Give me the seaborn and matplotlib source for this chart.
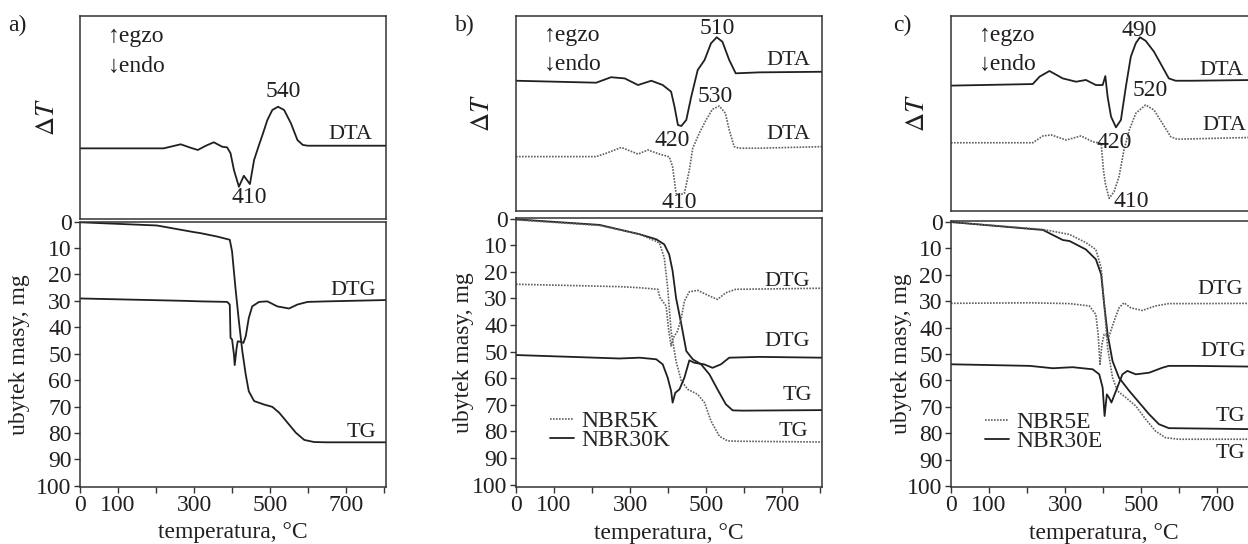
import matplotlib
matplotlib.use('Agg')
import matplotlib.pyplot as plt
from matplotlib.lines import Line2D
import seaborn as sns
import pandas as pd

# ---- panel a (single sample) ----
a_dta_t = [0, 220, 265, 291, 310, 330, 352, 374, 387, 396, 405, 418, 431, 447, 458, 471, 480, 493, 506, 521,
           537, 555, 572, 586, 599, 700, 805]
a_dta = [34.8, 34.8, 36.8, 35.1, 34.0, 36.0, 37.8, 35.6, 35.3, 32.4, 24.1, 15.9, 21.3, 17.2, 29.1, 36.5, 41.4,
         48.8, 53.7, 55.3, 53.7, 47.1, 38.9, 36.5, 36.1, 36.1, 36.1]
a_tg_t = [0, 202, 299, 317, 361, 394, 400, 409, 418, 427, 436, 444, 458, 484, 506, 524, 546, 568, 590, 616, 650, 805]
a_tg = [0.3, 1.5, 4.0, 4.4, 5.7, 6.9, 11.3, 25.2, 37.7, 49.0, 57.9, 64.2, 67.9, 69.2, 70.1, 72.3, 76.1, 79.9,
        82.6, 83.4, 83.5, 83.5]
a_dtg_t = [0, 273, 317, 387, 394, 396, 400, 405, 407, 412, 415, 423, 430, 436, 444, 453, 471, 493, 519, 550, 572,
           599, 650, 805]
a_dtg = [29.1, 30.0, 30.2, 30.4, 31.4, 44.0, 44.6, 50.3, 54.3, 47.8, 45.3, 45.5, 45.9, 43.4, 36.5, 32.1, 30.4,
         30.2, 32.1, 32.9, 31.4, 30.4, 30.2, 29.7]

# ---- panel b: NBR30K (solid) and NBR5K (dotted) ----
b_dta30_t = [0, 211, 250, 286, 321, 356, 386, 408, 417, 426, 435, 448, 461, 478, 496, 513, 528, 543, 561, 578,
             640, 805]
b_dta30 = [66.8, 65.8, 68.6, 68.0, 64.6, 66.8, 64.6, 61.2, 53.5, 44.1, 43.6, 46.7, 58.6, 72.3, 77.4, 86.0, 89.1,
           86.8, 77.4, 70.6, 71.1, 71.4]
b_dta5_t = [0, 211, 237, 277, 321, 347, 377, 403, 412, 421, 429, 443, 456, 465, 482, 500, 517, 535, 551, 561, 574,
            587, 640, 805]
b_dta5 = [27.9, 27.9, 29.6, 32.6, 29.2, 31.3, 29.2, 27.8, 22.7, 9.1, 8.2, 9.1, 21.0, 32.2, 39.8, 46.7, 52.2, 53.8,
          50.1, 41.5, 33.0, 32.2, 32.2, 33.0]
b_tg30_t = [0, 220, 325, 369, 390, 403, 412, 421, 435, 448, 465, 487, 509, 530, 552, 570, 596, 805]
b_tg30 = [0.3, 2.4, 5.9, 7.8, 9.7, 13.5, 19.7, 29.8, 39.8, 49.8, 52.9, 54.8, 58.6, 64.2, 69.8, 72.1, 72.2, 72.0]
b_tg5_t = [0, 220, 325, 377, 390, 399, 408, 421, 435, 452, 478, 496, 513, 535, 557, 587, 805]
b_tg5 = [0.5, 2.6, 5.9, 9.1, 14.7, 26.0, 42.3, 53.6, 61.1, 64.2, 66.1, 69.2, 76.1, 81.8, 83.6, 83.7, 84.0]
b_dtg5_t = [0, 272, 325, 373, 379, 395, 401, 408, 414, 425, 435, 443, 456, 478, 504, 530, 552, 578, 640, 805]
b_dtg5 = [24.7, 25.6, 26.0, 26.6, 29.8, 32.9, 41.1, 47.9, 44.8, 42.3, 37.3, 31.0, 27.5, 27.0, 28.8, 30.4, 27.9,
          26.6, 26.5, 26.2]
b_dtg30_t = [0, 272, 325, 369, 386, 399, 408, 412, 419, 430, 443, 456, 469, 495, 517, 539, 561, 640, 805]
b_dtg30 = [51.3, 52.6, 52.3, 52.9, 54.8, 59.8, 64.8, 69.2, 65.5, 64.2, 59.8, 53.3, 54.2, 54.8, 56.1, 54.8, 52.3,
           52.0, 52.3]

# ---- panel c: NBR30E (solid) and NBR5E (dotted) ----
c_dta30_t = [0, 215, 233, 259, 294, 329, 355, 381, 399, 406, 412, 421, 434, 447, 460, 473, 486, 497, 512, 534,
             556, 573, 591, 634, 805]
c_dta30 = [64.3, 65.1, 68.9, 71.8, 68.0, 66.3, 67.2, 64.6, 64.6, 69.2, 58.6, 48.4, 42.9, 46.7, 63.7, 79.1, 86.0,
           89.1, 87.3, 81.7, 74.0, 68.0, 66.8, 66.8, 67.2]
c_dta5_t = [0, 215, 242, 264, 303, 342, 373, 395, 401, 406, 416, 429, 442, 455, 469, 486, 512, 534, 556, 578, 595,
            634, 805]
c_dta5 = [35.0, 35.0, 38.5, 39.0, 36.4, 38.5, 35.5, 34.7, 21.0, 14.2, 6.5, 9.9, 17.6, 31.3, 41.5, 50.1, 54.4,
          51.8, 45.0, 38.1, 36.8, 37.0, 37.8]
c_tg30_t = [0, 242, 294, 312, 355, 381, 395, 403, 412, 425, 442, 469, 495, 521, 547, 573, 634, 805]
c_tg30 = [0.0, 3.0, 6.8, 7.2, 10.4, 14.1, 19.8, 31.2, 42.5, 52.7, 59.0, 64.0, 68.4, 72.8, 76.6, 78.1, 78.2, 78.5]
c_tg5_t = [0, 242, 312, 355, 381, 395, 403, 412, 425, 438, 460, 486, 512, 538, 564, 599, 805]
c_tg5 = [0.0, 2.8, 4.7, 7.8, 10.4, 17.3, 31.2, 47.6, 59.0, 64.0, 66.5, 69.7, 74.7, 79.2, 81.7, 82.3, 82.3]
c_dtg5_t = [0, 207, 312, 364, 381, 387, 392, 397, 403, 416, 429, 442, 455, 473, 503, 538, 573, 634, 805]
c_dtg5 = [30.8, 30.6, 30.9, 31.8, 35.0, 42.5, 53.9, 46.3, 42.5, 43.2, 37.5, 32.5, 30.6, 32.5, 33.5, 31.8, 30.9,
          30.9, 30.8]
c_dtg30_t = [0, 207, 268, 320, 373, 390, 399, 404, 410, 416, 422, 434, 451, 464, 486, 521, 556, 573, 634, 805]
c_dtg30 = [53.9, 54.5, 55.4, 55.0, 55.8, 57.7, 62.8, 73.5, 65.3, 66.6, 68.4, 64.0, 57.7, 56.4, 57.7, 57.1, 55.2,
           54.5, 54.5, 54.8]

x_ticks = [0, 100, 200, 300, 400, 500, 600, 700, 800]
x_labels = ['0', '100', '', '300', '', '500', '', '700', '']
y_ticks = list(range(0, 101, 10))

sns.set_style('ticks')
plt.rcParams['font.family'] = ['Liberation Serif', 'DejaVu Serif']
plt.rcParams['mathtext.fontset'] = 'stix'

INK = '#231f20'
DOT = '#606060'
W, H = 1248, 544
FS = 17
SOLID = dict(color=INK, lw=1.3, linestyle='-')
DOTTED = dict(color=DOT, lw=1.2, linestyle=(0, (1.0, 0.8)))


def box(x0, y0, x1, y1):
    # pixel box -> figure fraction
    return [x0 / W, 1 - y1 / H, (x1 - x0) / W, (y1 - y0) / H]


def curve(ax, t, v, style):
    df = pd.DataFrame({'T': t, 'v': v})
    sns.lineplot(data=df, x='T', y='v', ax=ax, estimator=None, sort=False, legend=False, **style)


def frame(ax):
    for s in ax.spines.values():
        s.set_visible(True)
        s.set_linewidth(1.1)
        s.set_color('#333333')
    ax.set_xlabel('')
    ax.set_ylabel('')


def ylab(ax, text, size, off):
    ax.set_ylabel(text, fontsize=size, color=INK)
    ax.yaxis.label.set_va('center')
    ax.yaxis.set_label_coords(-off / 306, 0.5)


def setup_top(ax, off):
    frame(ax)
    ax.set_xlim(0, 805)
    ax.set_ylim(0, 100)
    ax.set_xticks([])
    ax.set_yticks([])
    ylab(ax, r'$\Delta T$', 19, off)
    ax.text(0.09, 0.9, '\u2191egzo', transform=ax.transAxes, fontsize=FS, color=INK, va='center')
    ax.text(0.09, 0.75, '\u2193endo', transform=ax.transAxes, fontsize=FS, color=INK, va='center')


def setup_bottom(ax, ylim, off):
    frame(ax)
    ax.set_xlim(0, 805)
    ax.set_ylim(*ylim)
    ax.set_xticks(x_ticks)
    ax.set_xticklabels(x_labels)
    ax.set_yticks(y_ticks)
    ax.tick_params(direction='out', length=4, width=1, labelsize=FS, pad=2, colors='#333333',
                   labelcolor=INK)
    ylab(ax, 'ubytek masy, mg', FS, off)
    ax.set_xlabel('temperatura, \u00b0C', fontsize=FS, color=INK)
    ax.xaxis.set_label_coords(0.5, -46 / 266)
    ax.xaxis.label.set_va('center')


def add_legend(ax, names, anchor):
    handles = [Line2D([], [], **DOTTED), Line2D([], [], **SOLID)]
    ax.legend(handles, names, loc='upper left', bbox_to_anchor=anchor, frameon=False, fontsize=FS,
              handlelength=1.0, handletextpad=0.3, labelspacing=-0.1, borderpad=0, borderaxespad=0)


fig = plt.figure(figsize=(W / 100, H / 100), dpi=100)
txt = dict(fontsize=FS, color=INK, ha='center', va='center')
lab = dict(fontsize=16, color=INK, va='center')

# ---------- a ----------
ax = fig.add_axes(box(80, 16, 386, 219))
curve(ax, a_dta_t, a_dta, SOLID)
setup_top(ax, 32)
ax.text(534, 62.6, '540', **txt)
ax.text(446, 10.8, '410', **txt)
ax.text(712, 41.4, 'DTA', ha='center', **lab)

ax = fig.add_axes(box(80, 221.5, 386, 487))
curve(ax, a_tg_t, a_tg, SOLID)
curve(ax, a_dtg_t, a_dtg, SOLID)
setup_bottom(ax, (100.4, 0), 60)
ax.text(718, 26.0, 'DTG', ha='center', **lab)
ax.text(740, 79.9, 'TG', ha='center', **lab)

# ---------- b ----------
ax = fig.add_axes(box(516, 16, 822, 211))
curve(ax, b_dta30_t, b_dta30, SOLID)
curve(ax, b_dta5_t, b_dta5, DOTTED)
setup_top(ax, 33)
ax.text(530, 93.8, '510', **txt)
ax.text(412, 36.4, '420', **txt)
ax.text(525, 58.5, '530', **txt)
ax.text(429, 4.6, '410', **txt)
ax.text(717, 77.4, 'DTA', ha='center', **lab)
ax.text(717, 39.0, 'DTA', ha='center', **lab)

ax = fig.add_axes(box(516, 218, 822, 487))
curve(ax, b_tg30_t, b_tg30, SOLID)
curve(ax, b_tg5_t, b_tg5, DOTTED)
curve(ax, b_dtg5_t, b_dtg5, DOTTED)
curve(ax, b_dtg30_t, b_dtg30, SOLID)
setup_bottom(ax, (100.9, -0.2), 52)
ax.text(713, 23.8, 'DTG', ha='center', **lab)
ax.text(713, 46.3, 'DTG', ha='center', **lab)
ax.text(739, 66.4, 'TG', ha='center', **lab)
ax.text(730, 80.1, 'TG', ha='center', **lab)
add_legend(ax, ['NBR5K', 'NBR30K'], (0.112, 0.285))

# ---------- c ----------
ax = fig.add_axes(box(951, 16, 1257, 211))
curve(ax, c_dta30_t, c_dta30, SOLID)
curve(ax, c_dta5_t, c_dta5, DOTTED)
setup_top(ax, 33)
ax.text(495, 92.8, '490', **txt)
ax.text(525, 62.0, '520', **txt)
ax.text(429, 34.9, '420', **txt)
ax.text(473, 5.1, '410', **txt)
ax.text(654, 72.3, 'DTA', ha='left', **lab)
ax.text(662, 44.0, 'DTA', ha='left', **lab)

ax = fig.add_axes(box(951, 221, 1257, 487))
curve(ax, c_tg30_t, c_tg30, SOLID)
curve(ax, c_tg5_t, c_tg5, DOTTED)
curve(ax, c_dtg5_t, c_dtg5, DOTTED)
curve(ax, c_dtg30_t, c_dtg30, SOLID)
setup_bottom(ax, (100.4, -0.4), 49)
ax.text(647, 25.5, 'DTG', ha='left', **lab)
ax.text(656, 49.1, 'DTG', ha='left', **lab)
ax.text(695, 73.7, 'TG', ha='left', **lab)
ax.text(695, 87.6, 'TG', ha='left', **lab)
add_legend(ax, ['NBR5E', 'NBR30E'], (0.112, 0.283))

# panel letters
for x, s in [(8, 'a)'), (455, 'b)'), (893, 'c)')]:
    fig.text(x / W, 1 - 25 / H, s, fontsize=FS, color=INK, va='center')

fig.savefig('out.png', dpi=100)
